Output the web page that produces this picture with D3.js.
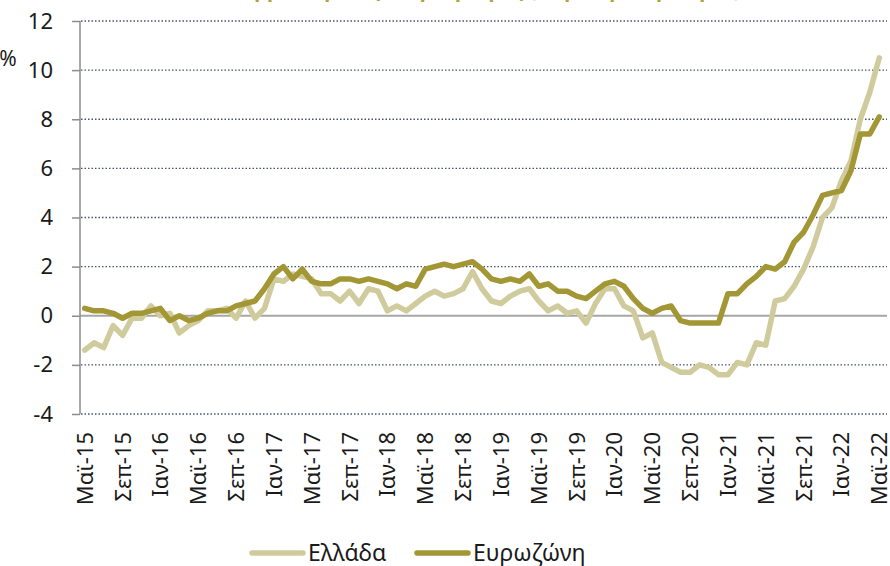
<!DOCTYPE html>
<html>
<head>
<meta charset="utf-8">
<script src="https://cdn.jsdelivr.net/npm/d3@7"></script>
<style>
  body { margin: 0; background: #fff; }
  svg { font-family: "Noto Sans", "Open Sans", sans-serif; }
</style>
</head>
<body>
<div id="chart"></div>
<script>
(function(){
  // months May 2015 .. May 2022
  const monthNames = ["Ιαν", "Φεβ", "Μαρ", "Απρ", "Μαϊ", "Ιουν", "Ιουλ", "Αυγ", "Σεπ", "Οκτ", "Νοε", "Δεκ"];
  const months = [];
  for (let y = 2015; y <= 2022; y++) {
    for (let m = 0; m < 12; m++) {
      if (y === 2015 && m < 4) continue;
      if (y === 2022 && m > 4) continue;
      months.push(monthNames[m] + "-" + String(y).slice(2));
    }
  }

  const greece = [
    -1.4, -1.1, -1.3, -0.4, -0.8, -0.1, -0.1, 0.4,
    0.0, 0.1, -0.7, -0.4, -0.2, 0.2, 0.2, 0.3, -0.1, 0.6, -0.1, 0.3,
    1.5, 1.4, 1.7, 1.6, 1.5, 0.9, 0.9, 0.6, 1.0, 0.5, 1.1, 1.0,
    0.2, 0.4, 0.2, 0.5, 0.8, 1.0, 0.8, 0.9, 1.1, 1.8, 1.1, 0.6,
    0.5, 0.8, 1.0, 1.1, 0.6, 0.2, 0.4, 0.1, 0.2, -0.3, 0.5, 1.1,
    1.1, 0.4, 0.2, -0.9, -0.7, -1.9, -2.1, -2.3, -2.3, -2.0, -2.1, -2.4,
    -2.4, -1.9, -2.0, -1.1, -1.2, 0.6, 0.7, 1.2, 1.9, 2.8, 4.0, 4.4,
    5.5, 6.3, 8.0, 9.1, 10.5
  ];
  const eurozone = [
    0.3, 0.2, 0.2, 0.1, -0.1, 0.1, 0.1, 0.2,
    0.3, -0.2, 0.0, -0.2, -0.1, 0.1, 0.2, 0.2, 0.4, 0.5, 0.6, 1.1,
    1.7, 2.0, 1.5, 1.9, 1.4, 1.3, 1.3, 1.5, 1.5, 1.4, 1.5, 1.4,
    1.3, 1.1, 1.3, 1.2, 1.9, 2.0, 2.1, 2.0, 2.1, 2.2, 1.9, 1.5,
    1.4, 1.5, 1.4, 1.7, 1.2, 1.3, 1.0, 1.0, 0.8, 0.7, 1.0, 1.3,
    1.4, 1.2, 0.7, 0.3, 0.1, 0.3, 0.4, -0.2, -0.3, -0.3, -0.3, -0.3,
    0.9, 0.9, 1.3, 1.6, 2.0, 1.9, 2.2, 3.0, 3.4, 4.1, 4.9, 5.0,
    5.1, 5.9, 7.4, 7.4, 8.1
  ];
  const yTicks = [-4, -2, 0, 2, 4, 6, 8, 10, 12];
  const seriesNames = ["Ελλάδα", "Ευρωζώνη"];
  const colors = ["#d0cb9c", "#a39634"];

  const width = 890, height = 566;
  const svg = d3.select("#chart").append("svg")
    .attr("width", width)
    .attr("height", height);

  const x = d3.scaleBand().domain(months).range([80, 884]);
  const y = d3.scaleLinear().domain([-4, 12]).range([414, 21]);
  const cx = d => x(d) + x.bandwidth() / 2;

  // title (cut off at top, as in the source)
  svg.append("text")
    .attr("x", 480).attr("y", -3)
    .attr("text-anchor", "middle")
    .style("font-size", "20px")
    .style("font-weight", "bold")
    .style("fill", "#b3a23a")
    .text("Εναρμονισμένος πληθωρισμός (ετήσια μεταβολή, %)");

  // gridlines
  svg.append("g").selectAll("line")
    .data(yTicks.filter(t => t !== 0))
    .join("line")
    .attr("x1", 81).attr("x2", 887)
    .attr("y1", d => y(d)).attr("y2", d => y(d))
    .attr("stroke", "#44546a")
    .attr("stroke-width", 1.3)
    .attr("stroke-dasharray", "1.5,2");

  // zero line
  svg.append("line")
    .attr("x1", 80).attr("x2", 887)
    .attr("y1", y(0)).attr("y2", y(0))
    .attr("stroke", "#a6a6a6")
    .attr("stroke-width", 2);

  // y axis
  const yAxis = svg.append("g")
    .attr("transform", "translate(80,0)")
    .call(d3.axisLeft(y).tickValues(yTicks).tickSize(8).tickPadding(19).tickFormat(d => String(d)));
  yAxis.select(".domain").attr("stroke", "#8c8c8c").attr("stroke-width", 1.5).attr("d", `M0,${y(12)}V${y(-4)}`);
  yAxis.selectAll(".tick line").attr("stroke", "#8c8c8c").attr("stroke-width", 1.5);
  yAxis.selectAll(".tick text")
    .style("font-size", "22px")
    .style("fill", "#1a1a1a")
    .style("font-family", "'Noto Sans', sans-serif");

  svg.append("text")
    .attr("x", 8).attr("y", 66)
    .attr("text-anchor", "middle")
    .style("font-size", "21px")
    .style("fill", "#1a1a1a")
    .text("%");

  // x labels, every 4th month
  svg.append("g").selectAll("text")
    .data(months.filter((d, i) => i % 4 === 0))
    .join("text")
    .attr("transform", d => `translate(${cx(d) + 8},${432}) rotate(-90)`)
    .attr("text-anchor", "end")
    .style("font-size", "22px")
    .style("fill", "#1a1a1a")
    .text(d => d);

  // lines
  const line = d3.line()
    .x((d, i) => cx(months[i]))
    .y(d => y(d));

  [greece, eurozone].forEach((s, k) => {
    svg.append("path")
      .datum(s)
      .attr("fill", "none")
      .attr("stroke", colors[k])
      .attr("stroke-width", 5.5)
      .attr("stroke-linejoin", "round")
      .attr("stroke-linecap", "round")
      .attr("d", line);
  });

  // legend
  const legendX = [252, 417];
  seriesNames.forEach((name, k) => {
    const g = svg.append("g").attr("transform", `translate(${legendX[k]},553)`);
    g.append("line")
      .attr("x1", 0).attr("x2", 51)
      .attr("y1", 0).attr("y2", 0)
      .attr("stroke", colors[k])
      .attr("stroke-width", 5.5)
      .attr("stroke-linecap", "round");
    g.append("text")
      .attr("x", 56).attr("y", 8)
      .style("font-size", "23px")
      .style("fill", "#1a1a1a")
      .text(name);
  });
})();
</script>
</body>
</html>
